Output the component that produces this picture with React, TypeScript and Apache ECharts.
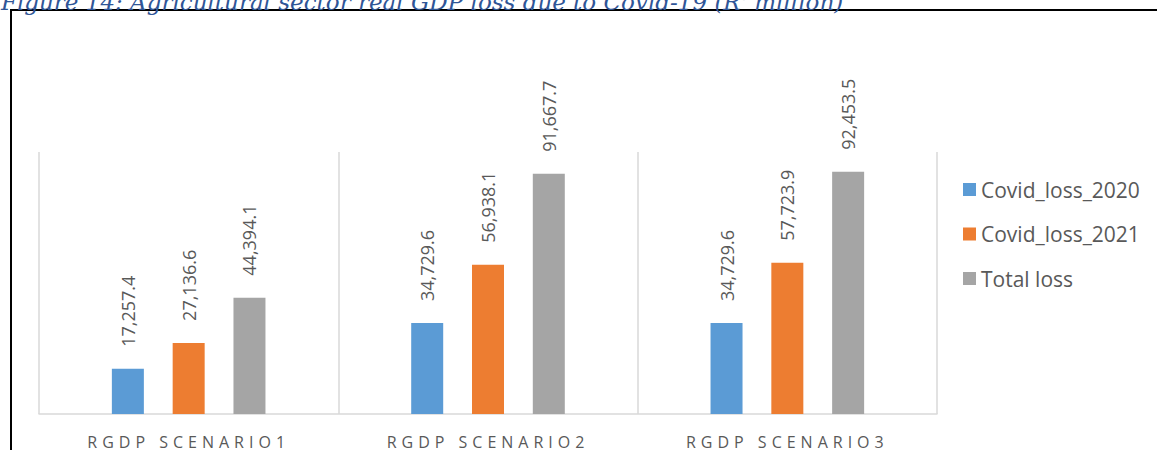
import React, { useEffect, useRef } from "react";
import * as echarts from "echarts";

const titleText = "Figure 14: Agricultural sector real GDP loss due to Covid-19 (R' million)";
const categories = ["RGDP SCENARIO1", "RGDP SCENARIO2", "RGDP SCENARIO3"];
const seriesNames = ["Covid_loss_2020", "Covid_loss_2021", "Total loss"];
const loss2020 = [17257.4, 34729.6, 34729.6];
const loss2021 = [27136.6, 56938.1, 57723.9];
const totalLoss = [44394.1, 91667.7, 92453.5];
const colors = ["#5B9BD5", "#ED7D31", "#A5A5A5"];

const fmt = (v: number) =>
  v.toLocaleString("en-US", { minimumFractionDigits: 1, maximumFractionDigits: 1 });

export default function App() {
  const ref = useRef<HTMLDivElement>(null);
  useEffect(() => {
    if (!ref.current) return;
    const chart = echarts.init(ref.current, null, { renderer: "svg" });
    const values = [loss2020, loss2021, totalLoss];
    chart.setOption({
      animation: false,
      backgroundColor: "#ffffff",
      textStyle: { fontFamily: "Open Sans" },
      grid: { left: 39, right: 220, top: 152, bottom: 36 },
      legend: {
        orient: "vertical",
        left: 963,
        top: 179,
        padding: 0,
        itemWidth: 13,
        itemHeight: 13,
        itemGap: 23.5,
        icon: "rect",
        textStyle: { fontFamily: "Open Sans", fontSize: 21, color: "#595959" },
        data: seriesNames,
      },
      xAxis: {
        type: "category",
        data: categories,
        axisTick: { show: false },
        axisLine: { lineStyle: { color: "#D9D9D9", width: 1.5 } },
        splitLine: { show: true, lineStyle: { color: "#D9D9D9", width: 1.5 } },
        axisLabel: {
          color: "#595959",
          fontFamily: "Open Sans",
          fontSize: 16,
          margin: 20,
        },
      },
      yAxis: {
        type: "value",
        min: 0,
        max: 100000,
        show: false,
        splitLine: { show: false },
      },
      graphic: [
        {
          type: "rect",
          shape: { x: 11, y: 10, width: 1300, height: 600 },
          style: { fill: "none", stroke: "#000000", lineWidth: 2 },
          silent: true,
        },
        {
          type: "text",
          x: 1,
          y: 13,
          style: {
            text: titleText,
            font: "italic 23px 'DejaVu Serif'",
            fill: "#2F5597",
            verticalAlign: "bottom",
            align: "left",
          },
          silent: true,
        },
      ],
      series: seriesNames.map((name, i) => ({
        name,
        type: "bar",
        data: values[i],
        barWidth: 32,
        barGap: "90%",
        itemStyle: { color: colors[i] },
        label: {
          show: true,
          position: "top",
          rotate: 90,
          align: "left",
          verticalAlign: "middle",
          distance: 22,
          color: "#595959",
          fontFamily: "Open Sans",
          fontSize: 18,
          formatter: (p: any) => fmt(p.value),
        },
      })),
    });
    const texts = ref.current.querySelectorAll("text");
    texts.forEach((t) => {
      if ((t.textContent || "").startsWith("RGDP")) {
        (t as SVGTextElement).style.letterSpacing = "5px";
      }
    });
    return () => chart.dispose();
  }, []);
  return (
    <div
      ref={ref}
      style={{ position: "absolute", left: 0, top: 0, width: 1157, height: 450 }}
    />
  );
}
